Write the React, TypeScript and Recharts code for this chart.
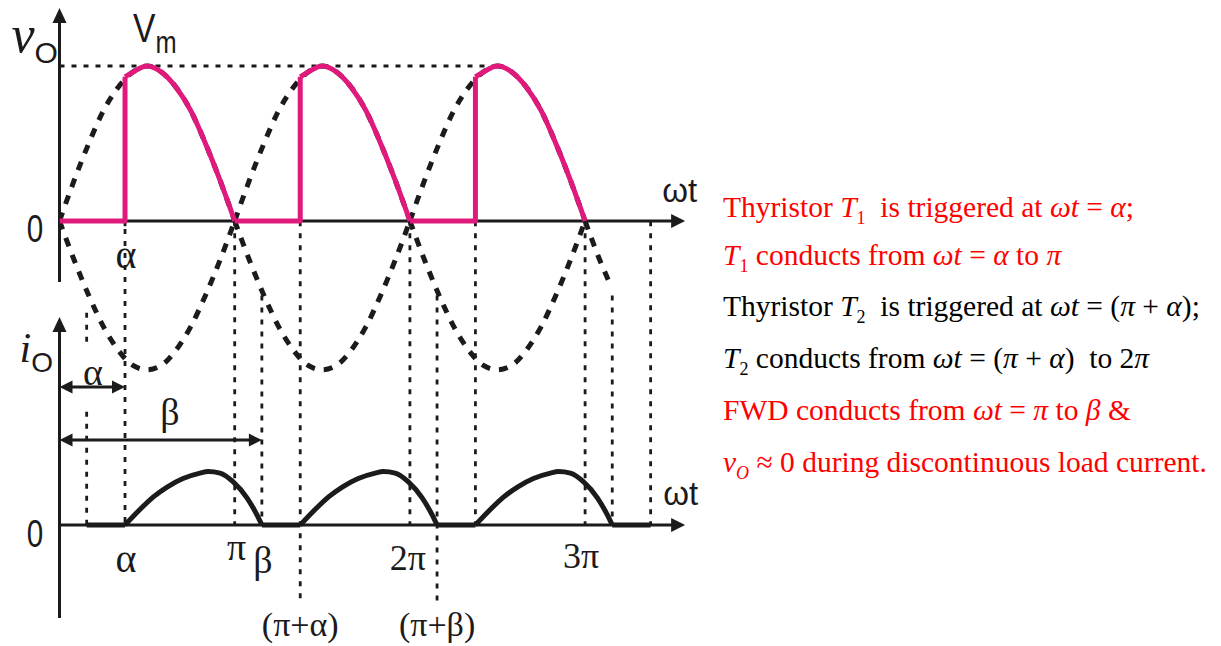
import React from 'react';
import { LineChart, Line, XAxis, YAxis, ReferenceLine, ReferenceDot } from 'recharts';

// ωt is measured in units of π everywhere in this file
const ALPHA = 0.374;
const BETA = 1.155;
const V_AT_ALPHA = 0.93;

const cycles = [0, 1, 2];

// one half-cycle of the supply (Vm = 1), every π/12
const halfAngle = [0, 0.083, 0.167, 0.25, 0.333, 0.417, 0.5, 0.583, 0.667, 0.75, 0.833, 0.917, 1];
const halfValue = [0, 0.26, 0.5, 0.71, 0.86, 0.96, 1, 0.96, 0.86, 0.71, 0.5, 0.26, 0];
// the lower dashed lobes come out a touch shallower in the drawing
const lowValue = [0, -0.25, -0.48, -0.68, -0.83, -0.93, -0.96, -0.93, -0.83, -0.68, -0.48, -0.25, 0];

// the negative dashed trace runs on a little past 3π
const tailAngle = [3, 3.083, 3.14];
const tailValue = [0, -0.25, -0.4];

// load current during one conduction interval α..β
const currentAngle = [0.374, 0.459, 0.534, 0.614, 0.705, 0.802, 0.848, 0.916, 0.99, 1.07, 1.127, 1.155];
const currentValue = [0, 0.1, 0.18, 0.245, 0.3, 0.335, 0.345, 0.335, 0.28, 0.175, 0.065, 0];

// intervals where the current sits at zero
const zeroFrom = [0.155, 1.155, 2.155, 3.155];
const zeroTo = [0.374, 1.374, 2.374, 3.374];

// dotted guides (x in π, ends on the current axis)
const guideX = [0.155, 0.155, 0.374, 0.374, 1, 1.155, 1.374, 2, 2.155, 2.374, 3, 3.155, 3.374];
const guideTop = [1.37, 0.73, 1.96, 1.91, 1.96, 1.48, 1.96, 1.96, 1.48, 1.96, 1.96, 1.48, 1.96];
const guideBottom = [1.17, 0, 1.91, 0, 0, 0, -0.5, 0, -0.5, 0, 0, 0, 0];

const W = 1221;
const H = 646;
const PINK = '#e0197c';
const INK = '#1c1a1b';
const RED = '#ff0000';
const SERIF = "'Liberation Serif', 'Times New Roman', serif";
const SANS = "'Liberation Sans', Arial, sans-serif";

type Pt = { x: number; y: number };

const lobe = (k: number, values: number[]): Pt[] =>
    halfAngle.map((a, j) => ({ x: a + k, y: values[j] }));

const tail: Pt[] = tailAngle.map((a, j) => ({ x: a, y: tailValue[j] }));

const pinkStep = (k: number): Pt[] => [
    { x: k, y: 0 },
    { x: k + ALPHA, y: 0 },
    { x: k + ALPHA, y: V_AT_ALPHA },
];

const pinkArc = (k: number): Pt[] => [
    { x: k + ALPHA, y: V_AT_ALPHA },
    ...lobe(k, halfValue).filter((p) => p.x > k + ALPHA + 0.01),
];

const currentLobe = (k: number): Pt[] =>
    currentAngle.map((a, j) => ({ x: a + k, y: currentValue[j] }));

const head = (dir: 'up' | 'right' | 'left', len: number, half: number) => (p: any) => {
    const { cx, cy } = p;
    let pts = '';
    if (dir === 'up') pts = `${cx},${cy} ${cx - half},${cy + len} ${cx + half},${cy + len}`;
    if (dir === 'right') pts = `${cx},${cy} ${cx - len},${cy - half} ${cx - len},${cy + half}`;
    if (dir === 'left') pts = `${cx},${cy} ${cx + len},${cy - half} ${cx + len},${cy + half}`;
    return <polygon points={pts} fill={INK} />;
};

const tag = (
    content: React.ReactNode,
    dx: number,
    dy: number,
    size: number,
    family: string,
    anchor: 'start' | 'middle' = 'middle',
    sx = 1
) => (p: any) => (
    <text
        transform={`translate(${p.cx + dx},${p.cy + dy}) scale(${sx},1)`}
        x={0}
        y={0}
        fontSize={size}
        fontFamily={family}
        textAnchor={anchor}
        fill={INK}
    >
        {content}
    </text>
);

type Part = [string, string?];
const notes: { color: string; y: number; parts: Part[] }[] = [
    { color: RED, y: 217, parts: [['Thyristor '], ['T', 'i'], ['1', 's'], ['  is triggered at '], ['ωt', 'i'], [' = '], ['α', 'i'], [';']] },
    { color: RED, y: 265, parts: [['T', 'i'], ['1', 's'], [' conducts from '], ['ωt', 'i'], [' = '], ['α', 'i'], [' to '], ['π', 'i']] },
    { color: '#000', y: 316, parts: [['Thyristor '], ['T', 'i'], ['2', 's'], ['  is triggered at '], ['ωt', 'i'], [' = ('], ['π', 'i'], [' + '], ['α', 'i'], [');']] },
    { color: '#000', y: 368, parts: [['T', 'i'], ['2', 's'], [' conducts from '], ['ωt', 'i'], [' = ('], ['π', 'i'], [' + '], ['α', 'i'], [')  to 2'], ['π', 'i']] },
    { color: RED, y: 420, parts: [['FWD conducts from '], ['ωt', 'i'], [' = '], ['π', 'i'], [' to '], ['β', 'i'], [' &']] },
    { color: RED, y: 472, parts: [['v', 'i'], ['O', 'is'], [' ≈ 0 during discontinuous load current.']] },
];

const NOTE_SIZE = 29.5;
const NOTE_SUB = 18;

function Note({ color, y, parts }: { color: string; y: number; parts: Part[] }) {
    let lowered = false;
    return (
        <text x={723} y={y} fill={color} fontSize={NOTE_SIZE} fontFamily={SERIF} style={{ whiteSpace: 'pre' }}>
            {parts.map(([t, f = ''], i) => {
                const sub = f.includes('s');
                const dy = sub && !lowered ? 7 : !sub && lowered ? -7 : 0;
                lowered = sub;
                return (
                    <tspan
                        key={i}
                        dy={dy}
                        fontSize={sub ? NOTE_SUB : NOTE_SIZE}
                        fontStyle={f.includes('i') ? 'italic' : 'normal'}
                    >
                        {t}
                    </tspan>
                );
            })}
        </text>
    );
}

const dotted = { stroke: INK, strokeWidth: 2.8, strokeDasharray: '5 7' };
const dashed = { stroke: INK, strokeWidth: 5, strokeDasharray: '9 9' };

export default function App() {
    return (
        <div style={{ position: 'absolute', left: 0, top: 0, width: W, height: H, background: '#fff' }}>
            <LineChart width={W} height={H} margin={{ top: 0, right: 460.7, bottom: 0, left: 59.5 }}>
                <XAxis type="number" dataKey="x" domain={[0, 4]} allowDataOverflow hide />
                <YAxis yAxisId="v" type="number" domain={[-2.7419, 1.4258]} allowDataOverflow hide />
                <YAxis yAxisId="i" type="number" domain={[-0.7806, 3.3871]} allowDataOverflow hide />

                {/* dotted guides */}
                {guideX.map((gx, j) => (
                    <ReferenceLine
                        key={`g${j}`}
                        yAxisId="i"
                        segment={[{ x: gx, y: guideTop[j] }, { x: gx, y: guideBottom[j] }]}
                        {...dotted}
                    />
                ))}
                <ReferenceLine yAxisId="v" segment={[{ x: 0, y: 1 }, { x: 2.514, y: 1 }]} {...dotted} />

                {/* axes */}
                <ReferenceLine yAxisId="v" segment={[{ x: 0, y: 0 }, { x: 3.5, y: 0 }]} stroke={INK} strokeWidth={3} />
                <ReferenceLine yAxisId="v" segment={[{ x: 0, y: -0.394 }, { x: 0, y: 1.3 }]} stroke={INK} strokeWidth={3} />
                <ReferenceLine yAxisId="i" segment={[{ x: 0, y: 0 }, { x: 3.5, y: 0 }]} stroke={INK} strokeWidth={3} />
                <ReferenceLine yAxisId="i" segment={[{ x: 0, y: -0.6 }, { x: 0, y: 1.26 }]} stroke={INK} strokeWidth={3} />
                <ReferenceDot yAxisId="v" x={3.571} y={0} r={1} shape={head('right', 14, 7)} />
                <ReferenceDot yAxisId="v" x={0} y={1.374} r={1} shape={head('up', 15, 7)} />
                <ReferenceDot yAxisId="i" x={3.571} y={0} r={1} shape={head('right', 14, 7)} />
                <ReferenceDot yAxisId="i" x={0} y={1.342} r={1} shape={head('up', 15, 7)} />

                {/* α and β dimension arrows */}
                <ReferenceLine yAxisId="i" segment={[{ x: 0.05, y: 0.89 }, { x: ALPHA - 0.05, y: 0.89 }]} stroke={INK} strokeWidth={3} />
                <ReferenceDot yAxisId="i" x={0} y={0.89} r={1} shape={head('left', 13, 6.5)} />
                <ReferenceDot yAxisId="i" x={ALPHA} y={0.89} r={1} shape={head('right', 13, 6.5)} />
                <ReferenceLine yAxisId="i" segment={[{ x: 0.05, y: 0.548 }, { x: BETA - 0.05, y: 0.548 }]} stroke={INK} strokeWidth={3} />
                <ReferenceDot yAxisId="i" x={0} y={0.548} r={1} shape={head('left', 13, 6.5)} />
                <ReferenceDot yAxisId="i" x={BETA} y={0.548} r={1} shape={head('right', 13, 6.5)} />

                {/* supply voltage, dashed */}
                {cycles.map((k) => (
                    <Line key={`up${k}`} yAxisId="v" data={lobe(k, halfValue)} dataKey="y" type="monotone"
                        {...dashed} dot={false} isAnimationActive={false} />
                ))}
                {cycles.map((k) => (
                    <Line key={`dn${k}`} yAxisId="v" data={lobe(k, lowValue)} dataKey="y" type="monotone"
                        {...dashed} dot={false} isAnimationActive={false} />
                ))}
                <Line yAxisId="v" data={tail} dataKey="y" type="monotone"
                    {...dashed} dot={false} isAnimationActive={false} />

                {/* output voltage */}
                {cycles.map((k) => (
                    <Line key={`ps${k}`} yAxisId="v" data={pinkStep(k)} dataKey="y" type="linear"
                        stroke={PINK} strokeWidth={5} strokeLinejoin="round" dot={false} isAnimationActive={false} />
                ))}
                {cycles.map((k) => (
                    <Line key={`pa${k}`} yAxisId="v" data={pinkArc(k)} dataKey="y" type="monotone"
                        stroke={PINK} strokeWidth={5} dot={false} isAnimationActive={false} />
                ))}

                {/* load current */}
                {zeroFrom.map((f, j) => (
                    <Line key={`z${j}`} yAxisId="i" data={[{ x: f, y: 0 }, { x: zeroTo[j], y: 0 }]} dataKey="y"
                        type="linear" stroke={INK} strokeWidth={5} dot={false} isAnimationActive={false} />
                ))}
                {cycles.map((k) => (
                    <Line key={`c${k}`} yAxisId="i" data={currentLobe(k)} dataKey="y" type="monotone"
                        stroke={INK} strokeWidth={5} dot={false} isAnimationActive={false} />
                ))}

                {/* labels */}
                <ReferenceDot yAxisId="v" x={0} y={0} r={1} shape={tag('0', -24.5, 21, 38, SANS, 'middle', 0.78)} />
                <ReferenceDot yAxisId="i" x={0} y={0} r={1} shape={tag('0', -24.5, 22, 38, SANS, 'middle', 0.78)} />
                <ReferenceDot yAxisId="v" x={0} y={1.374} r={1} shape={tag(
                    <>
                        <tspan fontFamily={SERIF} fontStyle="italic" fontSize={52}>v</tspan>
                        <tspan fontSize={30} dy={11}>O</tspan>
                    </>, -48, 44, 30, SANS, 'start')} />
                <ReferenceDot yAxisId="i" x={0} y={1.342} r={1} shape={tag(
                    <>
                        <tspan fontFamily={SERIF} fontStyle="italic" fontSize={42}>i</tspan>
                        <tspan fontSize={28} dy={10}>O</tspan>
                    </>, -40, 45, 28, SANS, 'start')} />
                <ReferenceDot yAxisId="v" x={0} y={1} r={1} shape={tag(
                    <>
                        <tspan fontSize={41}>V</tspan>
                        <tspan fontSize={31} dy={11}>m</tspan>
                    </>, 73.5, -24, 41, SANS, 'start', 0.82)} />
                <ReferenceDot yAxisId="v" x={3.571} y={0} r={1} shape={tag('ωt', -23, -19, 33, SANS, 'start')} />
                <ReferenceDot yAxisId="i" x={3.571} y={0} r={1} shape={tag('ωt', -22, -20, 33, SANS, 'start')} />
                <ReferenceDot yAxisId="v" x={ALPHA} y={0} r={1} shape={tag('α', 1, 47, 40, SERIF)} />
                <ReferenceDot yAxisId="i" x={ALPHA} y={0} r={1} shape={tag('α', 1, 47, 40, SERIF)} />
                <ReferenceDot yAxisId="i" x={1} y={0} r={1} shape={tag('π', 2, 35, 38, SERIF)} />
                <ReferenceDot yAxisId="i" x={BETA} y={0} r={1} shape={tag('β', 1, 48, 38, SERIF)} />
                <ReferenceDot yAxisId="i" x={2} y={0} r={1} shape={tag('2π', -2, 45, 36, SERIF)} />
                <ReferenceDot yAxisId="i" x={3} y={0} r={1} shape={tag('3π', -4, 43, 36, SERIF)} />
                <ReferenceDot yAxisId="i" x={1 + ALPHA} y={0} r={1} shape={tag('(π+α)', 0, 111, 34, SERIF)} />
                <ReferenceDot yAxisId="i" x={1 + BETA} y={0} r={1} shape={tag('(π+β)', 0, 111, 34, SERIF)} />
                <ReferenceDot yAxisId="i" x={0} y={0.89} r={1} shape={tag('α', 33.5, -2, 38, SERIF)} />
                <ReferenceDot yAxisId="i" x={0} y={0.548} r={1} shape={tag('β', 110.5, -15, 38, SERIF)} />
            </LineChart>

            <svg width={W} height={H} style={{ position: 'absolute', left: 0, top: 0, pointerEvents: 'none' }}>
                {notes.map((n, i) => (
                    <Note key={i} {...n} />
                ))}
            </svg>
        </div>
    );
}
